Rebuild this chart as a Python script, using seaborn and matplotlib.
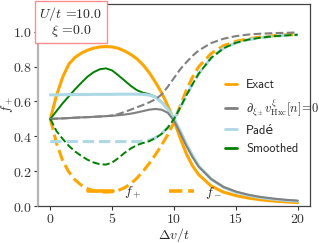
import numpy as np
import matplotlib
matplotlib.use("Agg")
import matplotlib.pyplot as plt
import seaborn as sns
from matplotlib.lines import Line2D
from matplotlib.ticker import FuncFormatter

# values
dv = [0, 0.5, 1, 1.5, 2, 2.5, 3, 3.5, 4, 4.5, 5, 5.5, 6, 6.5, 7, 7.5, 8, 8.5,
      9, 9.5, 10, 10.5, 11, 11.5, 12, 13, 14, 15, 16, 17, 18, 19, 20]

exact_fp = [0.50, 0.635, 0.74, 0.815, 0.853, 0.877, 0.894, 0.906, 0.913, 0.915, 0.913, 0.905,
            0.89, 0.87, 0.845, 0.81, 0.765, 0.71, 0.65, 0.575, 0.49, 0.39, 0.30, 0.23,
            0.18, 0.115, 0.08, 0.06, 0.046, 0.036, 0.029, 0.024, 0.02]
exact_fm = [0.50, 0.36, 0.26, 0.195, 0.15, 0.12, 0.10, 0.088, 0.082, 0.08, 0.082, 0.09,
            0.105, 0.128, 0.16, 0.20, 0.245, 0.295, 0.35, 0.41, 0.48, 0.575, 0.665, 0.74,
            0.80, 0.875, 0.92, 0.945, 0.96, 0.97, 0.977, 0.982, 0.985]

dhxc_fp = [0.50, 0.502, 0.503, 0.505, 0.507, 0.509, 0.51, 0.512, 0.514, 0.516, 0.518, 0.521,
           0.525, 0.53, 0.537, 0.545, 0.553, 0.557, 0.553, 0.535, 0.49, 0.42, 0.345, 0.28,
           0.225, 0.155, 0.11, 0.083, 0.065, 0.052, 0.043, 0.036, 0.031]
dhxc_fm = [0.50, 0.502, 0.503, 0.505, 0.507, 0.509, 0.51, 0.512, 0.514, 0.516, 0.52, 0.528,
           0.54, 0.553, 0.567, 0.58, 0.595, 0.613, 0.64, 0.685, 0.735, 0.785, 0.825, 0.862,
           0.893, 0.935, 0.96, 0.975, 0.984, 0.989, 0.992, 0.994, 0.996]

pade_fp = [0.638, 0.638, 0.639, 0.639, 0.64, 0.64, 0.64, 0.641, 0.641, 0.641, 0.641, 0.642,
           0.642, 0.642, 0.642, 0.641, 0.637, 0.625, 0.595, 0.555, 0.50, 0.43, 0.355, 0.29,
           0.23, 0.155, 0.108, 0.08, 0.062, 0.049, 0.04, 0.033, 0.028]
pade_fm = [0.37, 0.37, 0.37, 0.37, 0.37, 0.37, 0.37, 0.37, 0.37, 0.37, 0.37, 0.37,
           0.37, 0.37, 0.37, 0.372, 0.378, 0.392, 0.415, 0.45, 0.50, 0.565, 0.635, 0.70,
           0.76, 0.85, 0.905, 0.937, 0.955, 0.966, 0.974, 0.979, 0.983]

smooth_fp = [0.50, 0.545, 0.59, 0.63, 0.67, 0.707, 0.742, 0.768, 0.785, 0.79, 0.778, 0.75,
             0.72, 0.69, 0.665, 0.65, 0.642, 0.627, 0.597, 0.555, 0.50, 0.43, 0.355, 0.29,
             0.23, 0.155, 0.108, 0.08, 0.062, 0.049, 0.04, 0.033, 0.028]
smooth_fm = [0.50, 0.43, 0.385, 0.345, 0.313, 0.288, 0.266, 0.25, 0.24, 0.238, 0.25, 0.275,
             0.305, 0.33, 0.35, 0.362, 0.372, 0.39, 0.414, 0.45, 0.50, 0.565, 0.635, 0.70,
             0.76, 0.85, 0.905, 0.937, 0.955, 0.966, 0.974, 0.979, 0.983]

legend_labels = ["Exact", r"$\partial_{\xi_\pm} v^{\xi}_{\rm Hxc}[n]\!=\!0$", "Padé", "Smoothed"]

sns.set_style("ticks")
plt.rcParams["mathtext.fontset"] = "cm"

fig, ax = plt.subplots(figsize=(3.19, 2.43), dpi=100)
fig.subplots_adjust(left=0.119, right=0.972, bottom=0.152, top=0.984)

orange, gray, lblue, green = "#FFA500", "#808080", "#ADD8E6", "#008000"

# solid = f+, dashed = f-
sns.lineplot(x=dv, y=exact_fp, ax=ax, color=orange, lw=2.2, zorder=2)
sns.lineplot(x=dv, y=exact_fm, ax=ax, color=orange, lw=2.2, ls="--", zorder=2)
sns.lineplot(x=dv, y=smooth_fp, ax=ax, color=green, lw=1.4, zorder=2.5)
sns.lineplot(x=dv, y=pade_fp, ax=ax, color=lblue, lw=2.2, zorder=3)
sns.lineplot(x=dv, y=pade_fm, ax=ax, color=lblue, lw=2.2, ls="--", zorder=3)
sns.lineplot(x=dv, y=dhxc_fp, ax=ax, color=gray, lw=1.5, zorder=3.5)
sns.lineplot(x=dv, y=dhxc_fm, ax=ax, color=gray, lw=1.5, ls="--", zorder=3.5)
sns.lineplot(x=dv, y=smooth_fm, ax=ax, color=green, lw=1.4, ls="--", zorder=4)

ax.set_xlim(-1, 21)
ax.set_ylim(0, 1.16)
ax.set_xticks([0, 5, 10, 15, 20])
ax.set_yticks([0.0, 0.2, 0.4, 0.6, 0.8, 1.0])
ax.xaxis.set_major_formatter(FuncFormatter(lambda v, p: f"${v:g}$"))
ax.yaxis.set_major_formatter(FuncFormatter(lambda v, p: f"${v:.1f}$"))
ax.tick_params(labelsize=10, length=3, width=0.8, pad=1.5,
               colors="#333333", labelcolor="#333333")
ax.tick_params(axis="y", pad=1.0)
ax.set_xlabel(r"$\Delta v/t$", fontsize=10, labelpad=0)
ax.set_ylabel(r"$f_+$", fontsize=9.5)
ax.yaxis.set_label_coords(-0.086, 0.5)

for side in ["top", "right", "bottom"]:
    ax.spines[side].set_color("#444444")
    ax.spines[side].set_linewidth(0.9)
ax.spines["left"].set_color("#b5b5b5")
ax.spines["left"].set_linewidth(1.6)

ax.text(0.121, 0.91, "$U/t$ =10.0\n$\\xi$ =0.0", transform=ax.transAxes,
        ha="center", va="center", multialignment="center", fontsize=10,
        family="cmr10", linespacing=1.0,
        bbox=dict(boxstyle="square,pad=0.3", fc="white", ec=(1, 0.45, 0.45, 0.8), lw=1.0))

handles = [Line2D([], [], color=c, lw=2.0) for c in [orange, gray, lblue, green]]
leg1 = ax.legend(handles, legend_labels, loc="center left", bbox_to_anchor=(0.645, 0.44),
                 frameon=False, handlelength=1.0, labelspacing=0.5,
                 handletextpad=0.7, prop={"family": ["cmss10", "DejaVu Sans"], "size": 9})
ax.add_artist(leg1)

handles2 = [Line2D([], [], color=orange, lw=2.6),
            Line2D([], [], color=orange, lw=2.6, ls="--")]
ax.legend(handles2, [r"$f_+$", r"$f_-$"], loc="center", bbox_to_anchor=(0.43, 0.065),
          ncol=2, frameon=False, fontsize=10, handlelength=1.8, columnspacing=2.0,
          handletextpad=0.8, borderpad=0.0)

fig.savefig("out.png", dpi=100)
